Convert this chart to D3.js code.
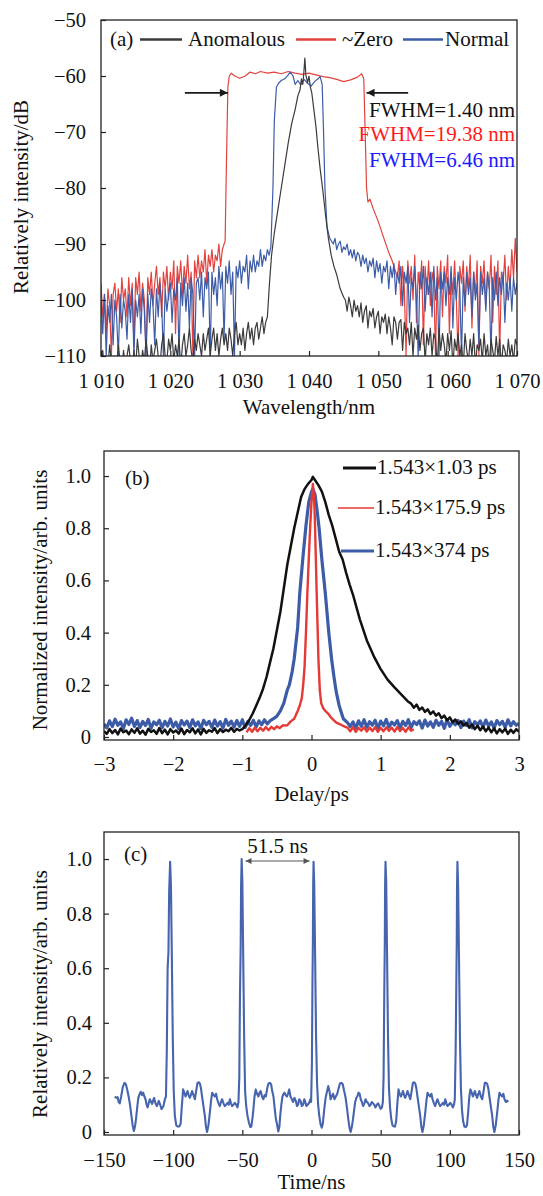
<!DOCTYPE html>
<html><head><meta charset="utf-8">
<script src="https://cdn.jsdelivr.net/npm/d3@7"></script>
<style>body{margin:0;background:#fff}svg{display:block}text{font-family:"Liberation Serif","Times New Roman",serif;fill:#111}</style>
</head><body><svg id="c" width="543" height="1196"></svg>
<script>
// ================= Panel (a): spectra =================
const wavelengthTicks = [1010,1020,1030,1040,1050,1060,1070];
const dBTicks = [-110,-100,-90,-80,-70,-60,-50];
const specNames = ["Anomalous","~Zero","Normal"];
const fwhmLabels = ["FWHM=1.40 nm","FWHM=19.38 nm","FWHM=6.46 nm"];
const noiseStepNm = 0.25;
// ~Zero (red): noisy floor sampled every 0.25 nm, then the flat-top body
const zeroNoiseL = [-97,-103,-99,-106,-98,-101,-110,-99, -97,-102,-98,-104,-96,-100,-98,-103, -96,-101,-97,-108,-96,-99,-95,-102, -97,-100,-110,-96,-99,-95,-101,-97, -94,-99,-96,-103,-95,-98,-94,-100, -95,-98,-93,-106,-94,-97,-93,-99, -94,-97,-92,-98,-95,-110,-93,-96, -92,-96,-93,-95,-91,-97,-92,-94, -91,-95,-92,-93,-90,-94,-91,-90];
const zeroBody = [[1027.9,-89.5],[1028.1,-75],[1028.3,-62],[1028.5,-60],[1028.8,-59.5],[1029.3,-60],[1030,-60.4],[1030.8,-60],[1031.5,-59.3],[1032.3,-59.6],[1033,-59.2],[1034,-59.5],[1035,-59.3],[1036,-59.6],[1037,-59.2],[1038,-59.5],[1039,-59.7],[1040,-59.5],[1041,-59.8],[1042,-60.1],[1043,-60.3],[1044,-60.6],[1045,-61],[1046,-60.7],[1047,-60.2],[1047.6,-59.6],[1047.9,-60.5],[1048.1,-70],[1048.3,-80],[1048.5,-82.5],[1048.8,-82],[1049.2,-83.5],[1050,-86],[1050.8,-89],[1051.5,-91.5],[1052,-93],[1052.5,-95]];
const zeroNoiseR = [-96,-93,-101,-94,-98,-110,-93,-97, -94,-100,-92,-104,-95,-98,-93,-108, -94,-99,-93,-101,-95,-97,-110,-94, -98,-93,-103,-94,-97,-92,-106,-95, -99,-93,-100,-110,-94,-97,-93,-102, -94,-98,-92,-105,-95,-99,-93,-110, -94,-97,-93,-101,-95,-98,-92,-104, -94,-99,-93,-110,-95,-97,-92,-100, -94,-98,-91,-96,-89,-95];
// Normal (blue)
const normalNoiseL = [-100,-106,-99,-110,-101,-104,-99,-108, -100,-103,-110,-99,-105,-100,-102,-107, -99,-104,-98,-110,-100,-103,-99,-106, -98,-102,-110,-99,-104,-98,-101,-108, -98,-103,-97,-101,-110,-98,-102,-99, -97,-104,-98,-100,-96,-110,-97,-101, -96,-102,-97,-105,-96,-99,-110,-97, -96,-100,-95,-103,-96,-98,-95,-110, -95,-99,-96,-101,-94,-98,-95,-107, -94,-97,-93,-99,-95,-110,-94,-96, -93,-97,-94,-95,-92,-98,-93,-95, -92,-95,-93,-94,-91,-94,-92,-93, -91,-92,-90.5];
const normalBody = [[1034.8,-80],[1035,-68],[1035.3,-62],[1035.6,-61.3],[1036,-60.8],[1036.5,-60.5],[1037,-59.8],[1037.3,-59.3],[1037.7,-60],[1038,-61.5],[1038.4,-60.8],[1038.8,-61.6],[1039.3,-60.6],[1039.8,-61.3],[1040.3,-61.8],[1040.8,-61],[1041.3,-60.5],[1041.6,-60.1],[1041.9,-61.5],[1042.1,-70],[1042.3,-80],[1042.6,-87],[1043,-89]];
const normalNoiseR = [-89.5,-90,-89,-91,-90,-89.5,-91.5,-90.5, -91,-90,-92,-91,-92.5,-91,-93,-91.5, -92,-94,-92,-93.5,-92.5,-95,-93,-94, -92.5,-96,-93,-95,-93.5,-97,-94,-95, -93,-98,-94,-96,-93.5,-99,-95,-97, -94,-101,-95,-97,-94,-104,-96,-98, -94,-100,-110,-95,-98,-94,-102,-96, -99,-95,-103,-94,-100,-96,-110,-95, -98,-95,-101,-96,-99,-94,-105,-96, -100,-95,-98,-110,-96,-101,-95,-99, -96,-103,-95,-100,-97,-108,-95,-99, -96,-102,-95,-98,-110,-96,-100,-95, -101,-96,-99,-95,-104,-97,-100,-96, -102,-96,-99,-97];
// Anomalous (black)
const anomNoiseL = [-111,-109,-113,-110,-112,-108,-111,-113, -110,-112,-108,-111,-113,-109,-112,-110, -108,-111,-113,-109,-112,-107,-110,-112, -109,-111,-107,-110,-113,-108,-111,-109, -107,-110,-112,-108,-106,-110,-111,-107, -109,-106,-111,-108,-110,-107,-112,-108, -106,-110,-108,-105,-109,-111,-107,-109, -106,-108,-110,-106,-109,-107,-105,-110, -107,-105,-109,-106,-110,-107,-105,-108, -106,-109,-105,-107,-110,-106,-104,-108, -106,-108,-105,-109,-106,-104,-107,-105, -108,-105,-104,-107,-105,-103,-106,-104, -103];
const anomBody = [[1034.3,-97],[1034.6,-92],[1035,-88],[1035.5,-84],[1036,-80],[1036.5,-76],[1037,-72],[1037.5,-68.5],[1038,-66],[1038.4,-63.5],[1038.7,-62.5],[1038.9,-60.5],[1039.1,-61.5],[1039.25,-59.5],[1039.4,-56.8],[1039.55,-59.8],[1039.8,-61.2],[1040,-60],[1040.2,-62],[1040.4,-63],[1040.7,-66],[1041,-69],[1041.3,-73],[1041.6,-76.5],[1042,-80.5],[1042.4,-85],[1042.8,-89],[1043.2,-92],[1043.6,-94],[1044,-95.5],[1044.5,-98],[1045,-99.5]];
const anomNoiseR = [-100,-102,-99.5,-101,-103,-100,-102,-101, -103,-100.5,-104,-102,-101,-105,-102,-103, -101.5,-105,-103,-102,-106,-103,-104,-102.5, -106,-103,-105,-108,-103,-104,-107,-104, -103.5,-109,-104,-106,-105,-108,-104,-110, -105,-107,-104.5,-109,-106,-105,-111,-106, -108,-105,-110,-106,-107,-112,-105,-109, -106,-108,-111,-106,-109,-105.5,-112,-107, -109,-106,-110,-108,-112,-106,-109,-111, -107,-110,-106,-112,-108,-109,-107,-111, -106,-110,-108,-112,-107,-109,-111,-106.5, -110,-107,-112,-108,-109,-111,-107,-110, -108,-111,-107,-108];
const fwhmArrowLeft = [1022.1,1028.3];
const fwhmArrowRight = [1054.3,1048.3];
const fwhmArrowLevel = -63;

// ================= Panel (b): autocorrelation =================
const delayTicks = [-3,-2,-1,0,1,2,3];
const normTicks = [0,0.2,0.4,0.6,0.8,1.0];
const acNames = ["1.543×1.03 ps","1.543×175.9 ps","1.543×374 ps"];
const noiseStepPs = 0.04;
const acAnomNoiseL = [0.022,0.012,0.03,0.015,0.027,0.01,0.032,0.018,0.025,0.011, 0.029,0.016,0.033,0.013,0.024,0.009,0.031,0.019,0.026,0.012, 0.034,0.015,0.028,0.01,0.03,0.017,0.025,0.013,0.032,0.011, 0.027,0.018,0.033,0.014,0.029,0.01,0.031,0.016,0.026,0.02, 0.034,0.015,0.03,0.019,0.028,0.022,0.035,0.02,0.031,0.025];
const acAnomBody = [[-1.0,0.03],[-0.95,0.045],[-0.9,0.065],[-0.85,0.09],[-0.8,0.12],[-0.75,0.15],[-0.7,0.185],[-0.65,0.23],[-0.6,0.285],[-0.55,0.34],[-0.5,0.41],[-0.45,0.48],[-0.4,0.57],[-0.35,0.66],[-0.3,0.73],[-0.25,0.8],[-0.2,0.86],[-0.15,0.92],[-0.1,0.95],[-0.05,0.97],[0,0.985],[0.02,0.997],[0.05,0.985],[0.1,0.965],[0.15,0.94],[0.2,0.9],[0.25,0.85],[0.3,0.81],[0.35,0.76],[0.4,0.71],[0.45,0.68],[0.5,0.63],[0.55,0.585],[0.6,0.545],[0.7,0.45],[0.8,0.37],[0.9,0.31],[1.0,0.26],[1.1,0.22],[1.2,0.19],[1.3,0.162],[1.4,0.135]];
const acAnomNoiseR = [0.128,0.112,0.124,0.104,0.113,0.096,0.106,0.088,0.098,0.082, 0.091,0.072,0.082,0.064,0.075,0.057,0.067,0.05,0.06,0.044, 0.053,0.036,0.048,0.03,0.043,0.026,0.04,0.022,0.036,0.018, 0.033,0.014,0.03,0.018,0.032,0.012,0.028,0.016,0.03,0.02];
const acZeroNoiseL = [0.018,0.034,0.02,0.036,0.022,0.035,0.024,0.038,0.026,0.039,0.03,0.041,0.034,0.044];
const acZeroBody = [[-0.35,0.045],[-0.3,0.06],[-0.25,0.07],[-0.2,0.1],[-0.17,0.12],[-0.14,0.15],[-0.12,0.2],[-0.1,0.27],[-0.08,0.4],[-0.06,0.55],[-0.04,0.68],[-0.02,0.8],[0,0.9],[0.02,0.97],[0.04,0.9],[0.05,0.82],[0.075,0.55],[0.09,0.4],[0.1,0.3],[0.12,0.18],[0.14,0.13],[0.17,0.11],[0.2,0.1],[0.24,0.09],[0.28,0.075],[0.32,0.065],[0.36,0.055],[0.4,0.05],[0.44,0.045],[0.48,0.04]];
const acZeroNoiseR = [0.036,0.022,0.038,0.02,0.035,0.024,0.037,0.021,0.036,0.023,0.038,0.02,0.035,0.022,0.037,0.024,0.036,0.021,0.038,0.023,0.035,0.02,0.037,0.024,0.03];
const acNormalNoiseL = [0.05,0.035,0.062,0.04,0.068,0.045,0.058,0.032,0.066,0.048, 0.072,0.04,0.063,0.036,0.06,0.044,0.067,0.033,0.058,0.047, 0.064,0.035,0.06,0.042,0.069,0.038,0.057,0.031,0.063,0.046, 0.061,0.036,0.066,0.043,0.058,0.032,0.064,0.047,0.06,0.037, 0.065,0.042,0.059,0.034,0.067,0.045,0.061,0.038,0.063,0.041, 0.066,0.036,0.06,0.044,0.064,0.039,0.062,0.047,0.066,0.05];
const acNormalBody = [[-0.6,0.062],[-0.55,0.07],[-0.5,0.08],[-0.45,0.1],[-0.4,0.13],[-0.35,0.18],[-0.32,0.2],[-0.28,0.25],[-0.25,0.3],[-0.2,0.42],[-0.17,0.55],[-0.12,0.7],[-0.08,0.81],[-0.04,0.9],[0,0.94],[0.02,0.95],[0.05,0.93],[0.08,0.87],[0.11,0.8],[0.15,0.68],[0.2,0.55],[0.25,0.4],[0.29,0.3],[0.33,0.22],[0.36,0.17],[0.4,0.12],[0.46,0.07],[0.52,0.055]];
const acNormalNoiseR = [0.04,0.058,0.034,0.062,0.041,0.066,0.037,0.059,0.045,0.064, 0.033,0.061,0.043,0.067,0.038,0.057,0.046,0.063,0.035,0.06, 0.044,0.066,0.036,0.059,0.048,0.062,0.034,0.065,0.042,0.058, 0.037,0.064,0.045,0.06,0.033,0.067,0.041,0.057,0.047,0.063, 0.036,0.061,0.044,0.066,0.035,0.059,0.046,0.062,0.038,0.065, 0.042,0.058,0.034,0.063,0.047,0.06,0.037,0.066,0.043,0.059, 0.045,0.052];

// ================= Panel (c): pulse train =================
const timeTicks = [-150,-100,-50,0,50,100,150];
const trainTicks = [0,0.2,0.4,0.6,0.8,1.0];
const periodLabel = "51.5 ns";
const periodArrow = [-47.7,-1.4];
const pulseTrain = [[-142.2,0.13],[-141.2,0.125],[-140.2,0.128],[-139.4,0.11],[-138.6,0.105],[-137.6,0.13],[-136.4,0.165],[-135.2,0.18],[-134.2,0.175],[-133.2,0.155],[-132.2,0.13],[-131.2,0.1],[-130.2,0.06],[-129.3,0.025],[-128.4,0.004],[-127.6,0.02],[-126.8,0.05],[-126,0.09],[-125.2,0.125],[-124.2,0.14],[-123.4,0.147],[-122.5,0.135],[-121.7,0.144],[-120.8,0.13],[-120,0.12],[-119.2,0.1],[-118.5,0.09],[-117.7,0.105],[-116.9,0.12],[-116,0.11],[-115.2,0.103],[-114.5,0.115],[-113.8,0.125],[-112.8,0.105],[-111.8,0.095],[-111,0.105],[-110.4,0.114],[-109.4,0.1],[-108.4,0.084],[-107.6,0.09],[-107,0.095],[-106,0.12],[-105.2,0.13],[-104.6,0.3],[-104,0.6],[-103.4,0.66],[-102.9,0.88],[-102.2,0.99],[-101.6,0.9],[-101,0.66],[-100.3,0.35],[-99.6,0.15],[-98.8,0.06],[-97.8,0.025],[-96.8,0.02],[-95.6,0.02],[-94.6,0.03],[-93.8,0.09],[-92.8,0.156],[-92,0.145],[-91.1,0.13],[-90.3,0.14],[-89.6,0.15],[-88.8,0.135],[-88,0.125],[-87.2,0.135],[-86.3,0.15],[-85.3,0.135],[-84.3,0.12],[-83.4,0.15],[-82.4,0.18],[-81.5,0.182],[-80.7,0.178],[-79.9,0.16],[-79.1,0.13],[-78.1,0.095],[-77.1,0.059],[-76.3,0.02],[-75.5,0.0],[-74.5,0.025],[-73.5,0.07],[-72.6,0.115],[-71.8,0.144],[-70.8,0.135],[-69.9,0.13],[-69,0.14],[-68.2,0.12],[-67.2,0.105],[-66.3,0.095],[-65.4,0.11],[-64.6,0.12],[-63.6,0.105],[-62.7,0.095],[-61.7,0.1],[-60.7,0.107],[-59.8,0.1],[-59,0.12],[-58.2,0.105],[-57.4,0.095],[-56.4,0.1],[-55.4,0.107],[-54.4,0.1],[-53.5,0.09],[-52.8,0.11],[-52.2,0.2],[-51.7,0.5],[-51.2,0.68],[-50.9,0.9],[-50.5,1.0],[-50,0.92],[-49.4,0.66],[-48.7,0.35],[-48,0.15],[-47.2,0.095],[-46.3,0.06],[-45.2,0.034],[-44.2,0.018],[-43.5,0.02],[-42.7,0.05],[-42,0.083],[-41.2,0.13],[-40.3,0.156],[-39.4,0.14],[-38.4,0.13],[-37.5,0.145],[-36.7,0.15],[-35.8,0.13],[-34.8,0.12],[-33.9,0.135],[-33,0.13],[-32,0.16],[-31.1,0.178],[-30.2,0.18],[-29.2,0.175],[-28.4,0.15],[-27.5,0.13],[-26.7,0.09],[-25.8,0.05],[-25,0.03],[-24,0.002],[-23.2,0.02],[-22.6,0.06],[-21.8,0.1],[-21,0.13],[-20.2,0.14],[-19.5,0.144],[-18.7,0.135],[-17.8,0.13],[-17,0.14],[-16.1,0.156],[-15.2,0.13],[-14.2,0.12],[-13.3,0.11],[-12.3,0.125],[-11.4,0.115],[-10.5,0.095],[-9.7,0.1],[-8.9,0.12],[-8,0.115],[-7,0.095],[-6.1,0.1],[-5.2,0.12],[-4.2,0.105],[-3.7,0.095],[-2.8,0.1],[-1.6,0.107],[-0.9,0.12],[-0.3,0.11],[0.3,0.25],[0.7,0.55],[1.0,0.7],[1.2,0.9],[1.5,0.99],[2.0,0.9],[2.6,0.65],[3.3,0.35],[4.0,0.18],[4.8,0.1],[5.6,0.06],[6.5,0.03],[7.4,0.016],[8.2,0.03],[9.2,0.083],[10.2,0.125],[11,0.144],[12.1,0.168],[13,0.15],[13.8,0.12],[14.6,0.13],[15.6,0.14],[16.6,0.12],[17.6,0.13],[18.6,0.14],[19.6,0.16],[20.6,0.178],[21.6,0.18],[22.6,0.175],[23.6,0.15],[24.5,0.13],[25.6,0.09],[26.6,0.047],[27.5,0.015],[28.3,0.0],[29.2,0.02],[30,0.047],[30.8,0.08],[31.6,0.11],[32.4,0.125],[33.1,0.13],[34,0.144],[34.8,0.14],[35.6,0.12],[36.4,0.11],[37.3,0.095],[38.2,0.105],[39.1,0.12],[40,0.11],[41,0.105],[41.9,0.095],[42.8,0.1],[43.6,0.11],[44.5,0.105],[45.3,0.1],[46.2,0.09],[47.2,0.1],[48.1,0.105],[49.1,0.095],[50,0.085],[50.9,0.09],[51.6,0.11],[52.1,0.2],[52.6,0.5],[53,0.7],[53.2,0.9],[53.5,0.99],[54,0.92],[54.6,0.66],[55.3,0.35],[56,0.16],[56.8,0.09],[57.6,0.05],[58.5,0.025],[59.5,0.02],[60.4,0.02],[61.2,0.04],[62,0.1],[62.9,0.156],[63.7,0.14],[64.6,0.13],[65.4,0.14],[66.1,0.15],[66.9,0.135],[67.7,0.125],[68.5,0.135],[69.4,0.15],[70.4,0.135],[71.4,0.12],[72.4,0.15],[73.3,0.18],[74.2,0.182],[75,0.178],[75.8,0.16],[76.6,0.13],[77.6,0.095],[78.6,0.059],[79.4,0.02],[80.2,0.0],[81.2,0.025],[82.2,0.07],[83.1,0.115],[83.9,0.144],[84.9,0.135],[85.8,0.13],[86.7,0.14],[87.5,0.12],[88.5,0.105],[89.4,0.095],[90.3,0.11],[91.1,0.12],[92.1,0.105],[93,0.095],[94,0.1],[95,0.107],[95.9,0.1],[96.7,0.12],[97.5,0.105],[98.3,0.095],[99.3,0.1],[100.3,0.107],[101.3,0.1],[102.2,0.09],[103,0.1],[103.6,0.12],[104.2,0.3],[104.7,0.55],[105,0.7],[105.2,0.9],[105.5,0.99],[106,0.9],[106.6,0.65],[107.3,0.35],[108,0.16],[108.8,0.08],[109.6,0.04],[110.5,0.02],[111.5,0.018],[112.4,0.025],[113.2,0.07],[114.1,0.13],[114.9,0.156],[115.8,0.145],[116.6,0.13],[117.4,0.14],[118.1,0.15],[118.9,0.135],[119.7,0.125],[120.6,0.14],[121.4,0.15],[122.4,0.13],[123.4,0.12],[124.4,0.15],[125.3,0.18],[126.2,0.18],[127,0.176],[127.8,0.16],[128.6,0.13],[129.6,0.095],[130.6,0.06],[131.4,0.02],[132.2,0.0],[133.2,0.025],[134.2,0.07],[135.1,0.115],[135.9,0.144],[136.9,0.135],[137.8,0.13],[138.7,0.14],[139.5,0.12],[140.5,0.11],[141.4,0.115],[142.2,0.11]];

// ================= assembly helpers =================
const sampled = (start, step, vals) => vals.map((v,i)=>[+(start+i*step).toFixed(4), v]);
const specZero = [...sampled(1010,noiseStepNm,zeroNoiseL), ...zeroBody, ...sampled(1052.75,noiseStepNm,zeroNoiseR)];
const specNormal = [...sampled(1010,noiseStepNm,normalNoiseL), ...normalBody, ...sampled(1043.25,noiseStepNm,normalNoiseR)];
const specAnom = [...sampled(1010,noiseStepNm,anomNoiseL), ...anomBody, ...sampled(1045.25,noiseStepNm,anomNoiseR)];
const acAnom = [...sampled(-3,noiseStepPs,acAnomNoiseL), ...acAnomBody, ...sampled(1.44,noiseStepPs,acAnomNoiseR)];
const acZero = [...sampled(-0.94,noiseStepPs,acZeroNoiseL), ...acZeroBody, ...sampled(0.52,noiseStepPs,acZeroNoiseR)];
const acNormal = [...sampled(-3,noiseStepPs,acNormalNoiseL), ...acNormalBody, ...sampled(0.56,noiseStepPs,acNormalNoiseR)];

// ================= drawing =================
const svg = d3.select('#c');
const FONT = 21, TFONT = 20.5;
const defs = svg.append('defs');
function marker(id, color, w, h){
  defs.append('marker').attr('id',id).attr('viewBox','0 0 10 10').attr('refX',10).attr('refY',5)
    .attr('markerWidth',w).attr('markerHeight',h).attr('markerUnits','userSpaceOnUse').attr('orient','auto-start-reverse')
    .append('path').attr('d','M0,0L10,5L0,10z').attr('fill',color);
}
marker('arrA','#1a1a1a',13,8);
marker('arrC','#555',7,6);

function makePanel(o){
  const x = d3.scaleLinear().domain(o.xd).range([o.l,o.r]);
  const y = d3.scaleLinear().domain(o.yd).range([o.b,o.t]);
  const g = svg.append('g');
  defs.append('clipPath').attr('id','clip'+o.id).append('rect')
    .attr('x',o.l).attr('y',o.t).attr('width',o.r-o.l).attr('height',o.b-o.t);
  const line = d3.line().x(d=>x(d[0])).y(d=>y(d[1]));
  o.series.forEach(s=>{
    g.append('path').attr('clip-path',`url(#clip${o.id})`).attr('d',line(s.data))
      .attr('fill','none').attr('stroke',s.color).attr('stroke-width',s.w)
      .attr('stroke-linejoin','round');
  });
  const xa = d3.axisBottom(x).tickValues(o.xt).tickFormat(o.xf).tickSizeInner(-5).tickSizeOuter(0).tickPadding(o.xpad);
  const ya = d3.axisLeft(y).tickValues(o.yt).tickFormat(o.yf).tickSizeInner(-5).tickSizeOuter(0).tickPadding(o.ypad);
  [g.append('g').attr('transform',`translate(0,${o.b})`).call(xa),
   g.append('g').attr('transform',`translate(${o.l},0)`).call(ya)].forEach(a=>{
    a.select('.domain').remove();
    a.selectAll('line').attr('stroke','#222').attr('stroke-width',1.2);
    a.selectAll('text').attr('font-size',TFONT).attr('font-family','"Liberation Serif",serif').attr('fill','#111');
  });
  g.append('rect').attr('x',o.l).attr('y',o.t).attr('width',o.r-o.l).attr('height',o.b-o.t)
    .attr('fill','none').attr('stroke','#222').attr('stroke-width',1.3);
  g.append('text').attr('x',(o.l+o.r)/2).attr('y',o.xlabY).attr('text-anchor','middle').attr('font-size',FONT).text(o.xlab);
  g.append('text').attr('transform',`translate(${o.ylabX},${o.ylabC}) rotate(-90)`).attr('text-anchor','middle').attr('font-size',FONT).text(o.ylab);
  return {x,y,g};
}

const fmtWl = d => { const s = String(d); return s[0] + ' ' + s.slice(1); };
const fmtPlain = d3.format('');
const fmtNorm = d => d === 0 ? '0' : d3.format('.1f')(d);

// Panel (a)
const A = makePanel({id:'a', l:101, r:517, t:20, b:356, xd:[1010,1070], yd:[-110,-50],
  xt:wavelengthTicks, yt:dBTicks, xf:fmtWl, yf:fmtPlain, xpad:17, ypad:15,
  xlab:'Wavelength/nm', xlabY:414, ylab:'Relatively intensity/dB', ylabX:28, ylabC:197,
  series:[{data:specZero,color:'#e2433f',w:1.2},{data:specNormal,color:'#3d5ca8',w:1.2},{data:specAnom,color:'#3b3b3b',w:1.2}]});
{
  const g = A.g;
  g.append('text').attr('x',110).attr('y',46).attr('font-size',FONT).text('(a)');
  const leg = [{x1:140,x2:182,tx:188,c:'#3b3b3b'},{x1:296,x2:336,tx:342,c:'#e2433f'},{x1:403,x2:443,tx:445,c:'#3d5ca8'}];
  leg.forEach((L,i)=>{
    g.append('line').attr('x1',L.x1).attr('x2',L.x2).attr('y1',39.5).attr('y2',39.5).attr('stroke',L.c).attr('stroke-width',2.5);
    g.append('text').attr('x',L.tx).attr('y',46).attr('font-size',FONT).text(specNames[i]);
  });
  const fc = ['#111','#ff1a1a','#1a1aff'], fy = [117,141,167];
  fwhmLabels.forEach((t,i)=> g.append('text').attr('x',515).attr('y',fy[i]).attr('text-anchor','end').attr('font-size',FONT).style('fill',fc[i]).text(t));
  [fwhmArrowLeft, fwhmArrowRight].forEach(a=>{
    g.append('line').attr('x1',A.x(a[0])).attr('x2',A.x(a[1])).attr('y1',A.y(fwhmArrowLevel)).attr('y2',A.y(fwhmArrowLevel))
      .attr('stroke','#1a1a1a').attr('stroke-width',1.8).attr('marker-end','url(#arrA)');
  });
}

// Panel (b)
const B = makePanel({id:'b', l:104, r:519, t:451, b:740, xd:[-3,3], yd:[-0.0115,1.096],
  xt:delayTicks, yt:normTicks, xf:fmtPlain, yf:fmtNorm, xpad:16, ypad:13,
  xlab:'Delay/ps', xlabY:801, ylab:'Normalized intensity/arb. units', ylabX:47, ylabC:600,
  series:[{data:acNormal,color:'#3d5ca8',w:3.2},{data:acAnom,color:'#111',w:2.5},{data:acZero,color:'#e53935',w:2.4}]});
{
  const g = B.g;
  g.append('text').attr('x',125).attr('y',485).attr('font-size',FONT).text('(b)');
  const leg = [{x1:343,x2:376,y:468,c:'#111',w:3},{x1:338,x2:374,y:508,c:'#e53935',w:1.5},{x1:341,x2:374,y:551,c:'#3d5ca8',w:3}];
  leg.forEach((L,i)=>{
    g.append('line').attr('x1',L.x1).attr('x2',L.x2).attr('y1',L.y).attr('y2',L.y).attr('stroke',L.c).attr('stroke-width',L.w);
    g.append('text').attr('x',L.x2+1).attr('y',L.y+6).attr('font-size',FONT).text(acNames[i]);
  });
}

// Panel (c)
const C = makePanel({id:'c', l:104, r:519, t:832, b:1135, xd:[-150,150], yd:[-0.011,1.099],
  xt:timeTicks, yt:trainTicks, xf:fmtPlain, yf:fmtNorm, xpad:17, ypad:12,
  xlab:'Time/ns', xlabY:1189, ylab:'Relatively intensity/arb. units', ylabX:47, ylabC:994,
  series:[{data:pulseTrain,color:'#4665ae',w:2.1}]});
{
  const g = C.g;
  g.append('text').attr('x',124).attr('y',861).attr('font-size',FONT).text('(c)');
  g.append('text').attr('x',C.x((periodArrow[0]+periodArrow[1])/2)).attr('y',853).attr('text-anchor','middle').attr('font-size',FONT).text(periodLabel);
  g.append('line').attr('x1',C.x(periodArrow[0])).attr('x2',C.x(periodArrow[1])).attr('y1',861).attr('y2',861)
    .attr('stroke','#555').attr('stroke-width',1.2).attr('marker-end','url(#arrC)').attr('marker-start','url(#arrC)');
}
</script></body></html>
